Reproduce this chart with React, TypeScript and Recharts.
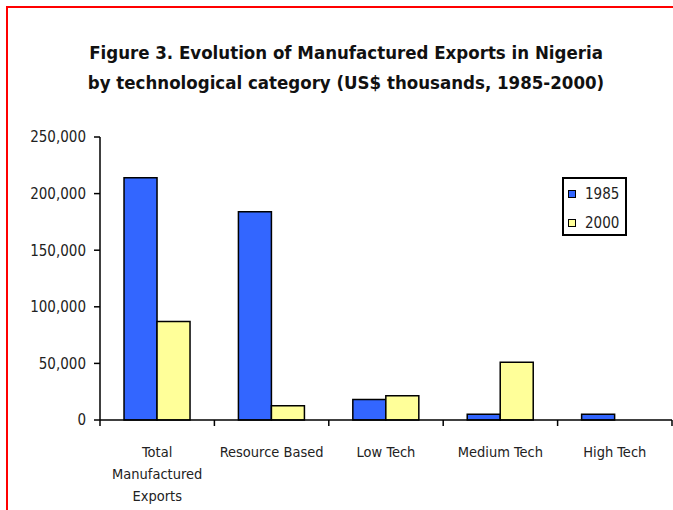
import { Bar, BarChart, Legend, XAxis, YAxis } from "recharts";

const categories = [
  "Total\nManufactured\nExports",
  "Resource Based",
  "Low Tech",
  "Medium Tech",
  "High Tech",
];
const exports1985 = [214000, 184000, 18000, 5000, 5000];
const exports2000 = [87000, 12500, 21500, 51000, 0];
const yTicks = [0, 50000, 100000, 150000, 200000, 250000];

const FONT = "'Liberation Sans Narrow', 'Arial Narrow', 'DejaVu Sans Condensed', sans-serif";
const BAND = 572 / categories.length;

const data = categories.map((name, i) => ({
  name,
  y1985: exports1985[i],
  y2000: exports2000[i],
}));

function CategoryTick({ x, y, payload, index }: any) {
  const lines = String(payload.value).split("\n");
  const left = x - BAND / 2;
  const right = x + BAND / 2;
  return (
    <g>
      <line x1={left} x2={left} y1={y - 6} y2={y} stroke="#000" strokeWidth={1.5} />
      {index === categories.length - 1 && (
        <line x1={right} x2={right} y1={y - 6} y2={y} stroke="#000" strokeWidth={1.5} />
      )}
      {lines.map((line, i) => (
        <text
          key={i}
          x={x}
          y={y + 31 + i * 22}
          textAnchor="middle"
          fill="#222"
          fontFamily={FONT}
          fontSize={14.5}
        >
          {line}
        </text>
      ))}
    </g>
  );
}

function LegendBox({ payload }: any) {
  return (
    <div
      style={{
        boxSizing: "border-box",
        width: 65,
        height: 59,
        border: "2px solid #000",
        padding: "0 0 0 4px",
        background: "#fff",
        fontFamily: FONT,
        fontSize: 15,
        color: "#222",
      }}
    >
      {(payload || []).map((entry: any) => (
        <div
          key={entry.value}
          style={{ display: "flex", alignItems: "center", height: 29 }}
        >
          <span
            style={{
              display: "inline-block",
              width: 6,
              height: 6,
              border: "1.5px solid #000",
              background: entry.color,
              marginRight: 9,
            }}
          />
          {entry.value}
        </div>
      ))}
    </div>
  );
}

export default function App() {
  return (
    <div
      style={{
        position: "absolute",
        left: 0,
        top: 0,
        width: 673,
        height: 510,
        overflow: "hidden",
        background: "#fff",
      }}
    >
      <div
        style={{
          position: "absolute",
          left: 6,
          top: 6,
          width: 720,
          height: 600,
          borderLeft: "2px solid #ff0000",
          borderTop: "2px solid #ff0000",
        }}
      />
      <div
        style={{
          position: "absolute",
          left: 0,
          top: 38,
          width: 692,
          textAlign: "center",
          fontFamily: FONT,
          fontWeight: "bold",
          fontSize: 18.5,
          lineHeight: "30px",
          color: "#111",
        }}
      >
        Figure 3. Evolution of Manufactured Exports in Nigeria
        <br />
        by technological category (US$ thousands, 1985-2000)
      </div>
      <div style={{ position: "absolute", left: 0, top: 0 }}>
        <BarChart
          width={673}
          height={510}
          data={data}
          margin={{ top: 137, right: 1, bottom: 0, left: 0 }}
          barCategoryGap="21%"
          barGap={0}
        >
          <XAxis
            dataKey="name"
            height={90}
            interval={0}
            tickSize={6}
            tickMargin={0}
            tickLine={false}
            axisLine={{ stroke: "#000", strokeWidth: 1.5 }}
            tick={<CategoryTick />}
          />
          <YAxis
            width={100}
            domain={[0, 250000]}
            ticks={yTicks}
            interval={0}
            tickSize={6}
            tickMargin={8}
            axisLine={{ stroke: "#000", strokeWidth: 1.5 }}
            tickLine={{ stroke: "#000", strokeWidth: 1.5 }}
            tick={{ fill: "#222", fontFamily: FONT, fontSize: 15 }}
            tickFormatter={(v) => Number(v).toLocaleString("en-US")}
          />
          <Legend
            layout="vertical"
            align="center"
            verticalAlign="middle"
            wrapperStyle={{ left: 562, top: 177, width: "auto" }}
            content={<LegendBox />}
          />
          <Bar
            dataKey="y1985"
            name="1985"
            fill="#3366FF"
            stroke="#000"
            strokeWidth={1.5}
            isAnimationActive={false}
          />
          <Bar
            dataKey="y2000"
            name="2000"
            fill="#FFFF99"
            stroke="#000"
            strokeWidth={1.5}
            isAnimationActive={false}
          />
        </BarChart>
      </div>
    </div>
  );
}
